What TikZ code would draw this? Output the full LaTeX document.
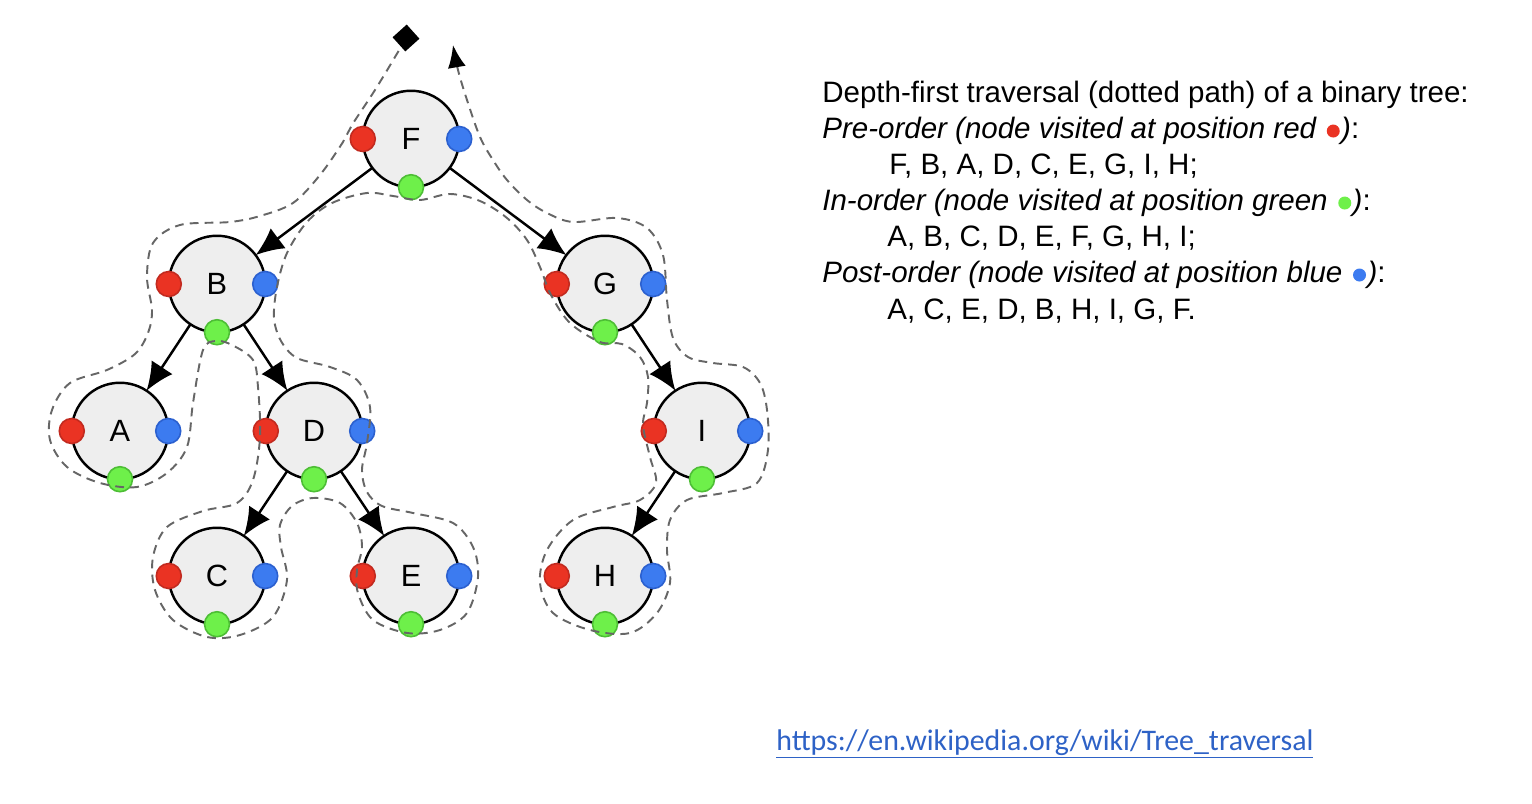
\documentclass[tikz,border=0pt]{standalone}
\usepackage{fontspec}
\setmainfont{Liberation Sans}
\newfontfamily\linkfont{Carlito}
\usetikzlibrary{arrows.meta}

\definecolor{nodegray}{HTML}{EEEEEE}
\definecolor{dotred}{HTML}{EA3323}
\definecolor{dotredline}{HTML}{C22A1F}
\definecolor{dotgreen}{HTML}{6EF04A}
\definecolor{dotgreenline}{HTML}{4DBE35}
\definecolor{dotblue}{HTML}{3C7BF0}
\definecolor{dotblueline}{HTML}{2B60CF}
\definecolor{tourgray}{HTML}{666666}
\definecolor{linkblue}{HTML}{2E62C6}

\newcommand{\txtfont}{\fontsize{16.8}{19}\selectfont}
\newcommand{\textdot}[1]{\hspace{0.08em}\tikz[baseline=0pt]\fill[#1] (0,0.27em) circle (0.22em);\hspace{0.05em}}

\tikzset{
  treenode/.style={circle, draw, line width=1.4pt, fill=nodegray, minimum size=1.93cm,
    inner sep=0pt, outer sep=0pt, font=\fontsize{17.5}{20}\selectfont},
  treeedge/.style={-{Latex[length=0.56cm,width=0.5cm]}, line width=1.4pt},
  tour/.style={tourgray, line width=1.1pt, dash pattern=on 5pt off 3.5pt},
  reddot/.style={fill=dotred, draw=dotredline, line width=0.9pt},
  greendot/.style={fill=dotgreen, draw=dotgreenline, line width=0.9pt},
  bluedot/.style={fill=dotblue, draw=dotblueline, line width=0.9pt},
  txt/.style={anchor=base west, inner sep=0pt, font=\txtfont}
}

\begin{document}
\begin{tikzpicture}[x=0.02cm, y=-0.02cm]
  \useasboundingbox (0,0) rectangle (1532,804);

  \node[treenode] (F) at (411,139) {F};
  \node[treenode] (B) at (217,284) {B};
  \node[treenode] (G) at (605,284) {G};
  \node[treenode] (A) at (120,431) {A};
  \node[treenode] (D) at (314,431) {D};
  \node[treenode] (I) at (702,431) {I};
  \node[treenode] (C) at (217,576) {C};
  \node[treenode] (E) at (411,576) {E};
  \node[treenode] (H) at (605,576) {H};

  \draw[treeedge] (F) -- (B);
  \draw[treeedge] (F) -- (G);
  \draw[treeedge] (B) -- (A);
  \draw[treeedge] (B) -- (D);
  \draw[treeedge] (D) -- (C);
  \draw[treeedge] (D) -- (E);
  \draw[treeedge] (G) -- (I);
  \draw[treeedge] (I) -- (H);

  \foreach \n in {F,B,G,A,D,I,C,E,H} {
    \draw[reddot] (\n.west) circle (0.25cm);
    \draw[greendot] (\n.south) circle (0.25cm);
    \draw[bluedot] (\n.east) circle (0.25cm);
  }

  \coordinate (start) at (406,38);
  \coordinate (finish) at (453,45);
  \draw[tour, -{Latex[length=0.45cm,width=0.36cm,black]}] plot[smooth, tension=0.55] coordinates {
    (start) (398,52) (375,90) (352,125) (343,142) (320,175) (293,203) (260,216) (230,222)
    (180,225) (153,243) (147,277) (152,310) (148,333) (135,354) (107,370) (70,383)
    (52,410) (50,440) (67,467) (100,483) (137,487) (167,473) (187,447) (193,403)
    (203,350) (216,341) (232,345) (253,360) (258,387) (260,437) (253,480) (237,503)
    (203,511) (167,527) (153,557) (155,590) (173,620) (207,637) (240,635) (273,617)
    (287,580) (281,547) (280,525) (292,506) (313,498) (340,503) (357,523) (362,547)
    (357,570) (358,593) (373,620) (407,633) (440,630) (467,613) (478,577) (473,547)
    (453,523) (413,513) (382,506) (367,492) (362,470) (367,443) (370,407) (357,380)
    (330,367) (297,358) (281,341) (274,318) (277,287) (287,253) (307,222) (332,203)
    (367,193) (393,196) (420,200) (450,194) (480,201) (507,218) (527,240) (540,267)
    (551,295) (570,323) (600,342) (622,344) (640,357) (648,377) (647,403) (643,425)
    (650,457) (656,483) (640,500) (613,507) (573,520) (547,550) (540,583) (553,613)
    (590,630) (630,633) (657,613) (670,583) (667,550) (670,520) (687,500) (723,493)
    (757,483) (768,450) (767,410) (760,383) (743,367) (713,363) (688,357) (673,338)
    (667,300) (663,255) (647,228) (617,218) (573,222) (547,213) (527,200) (507,180)
    (493,160) (480,137) (467,100) (458,70) (finish)};
  \node[fill, rotate=42, minimum size=0.38cm, inner sep=0pt] (startmark) at (start) {};

  \node[txt] (title) at (822,103) {Depth-first traversal (dotted path) of a binary tree:};
  \node[txt] (pre) at (822,139) {{\itshape Pre-order (node visited at position red \textdot{dotred})}:};
  \node[txt] (preseq) at (889,175) {F, B, A, D, C, E, G, I, H;};
  \node[txt] (in) at (822,211) {{\itshape In-order (node visited at position green \textdot{dotgreen})}:};
  \node[txt] (inseq) at (887,247) {A, B, C, D, E, F, G, H, I;};
  \node[txt] (post) at (822,283) {{\itshape Post-order (node visited at position blue \textdot{dotblue})}:};
  \node[txt] (postseq) at (887,319) {A, C, E, D, B, H, I, G, F.};

  \node[anchor=base west, inner sep=0pt, text=linkblue, font=\linkfont\fontsize{17}{20}\selectfont]
    (link) at (776,750) {\underline{https://en.wikipedia.org/wiki/Tree\_traversal}};
\end{tikzpicture}
\end{document}
